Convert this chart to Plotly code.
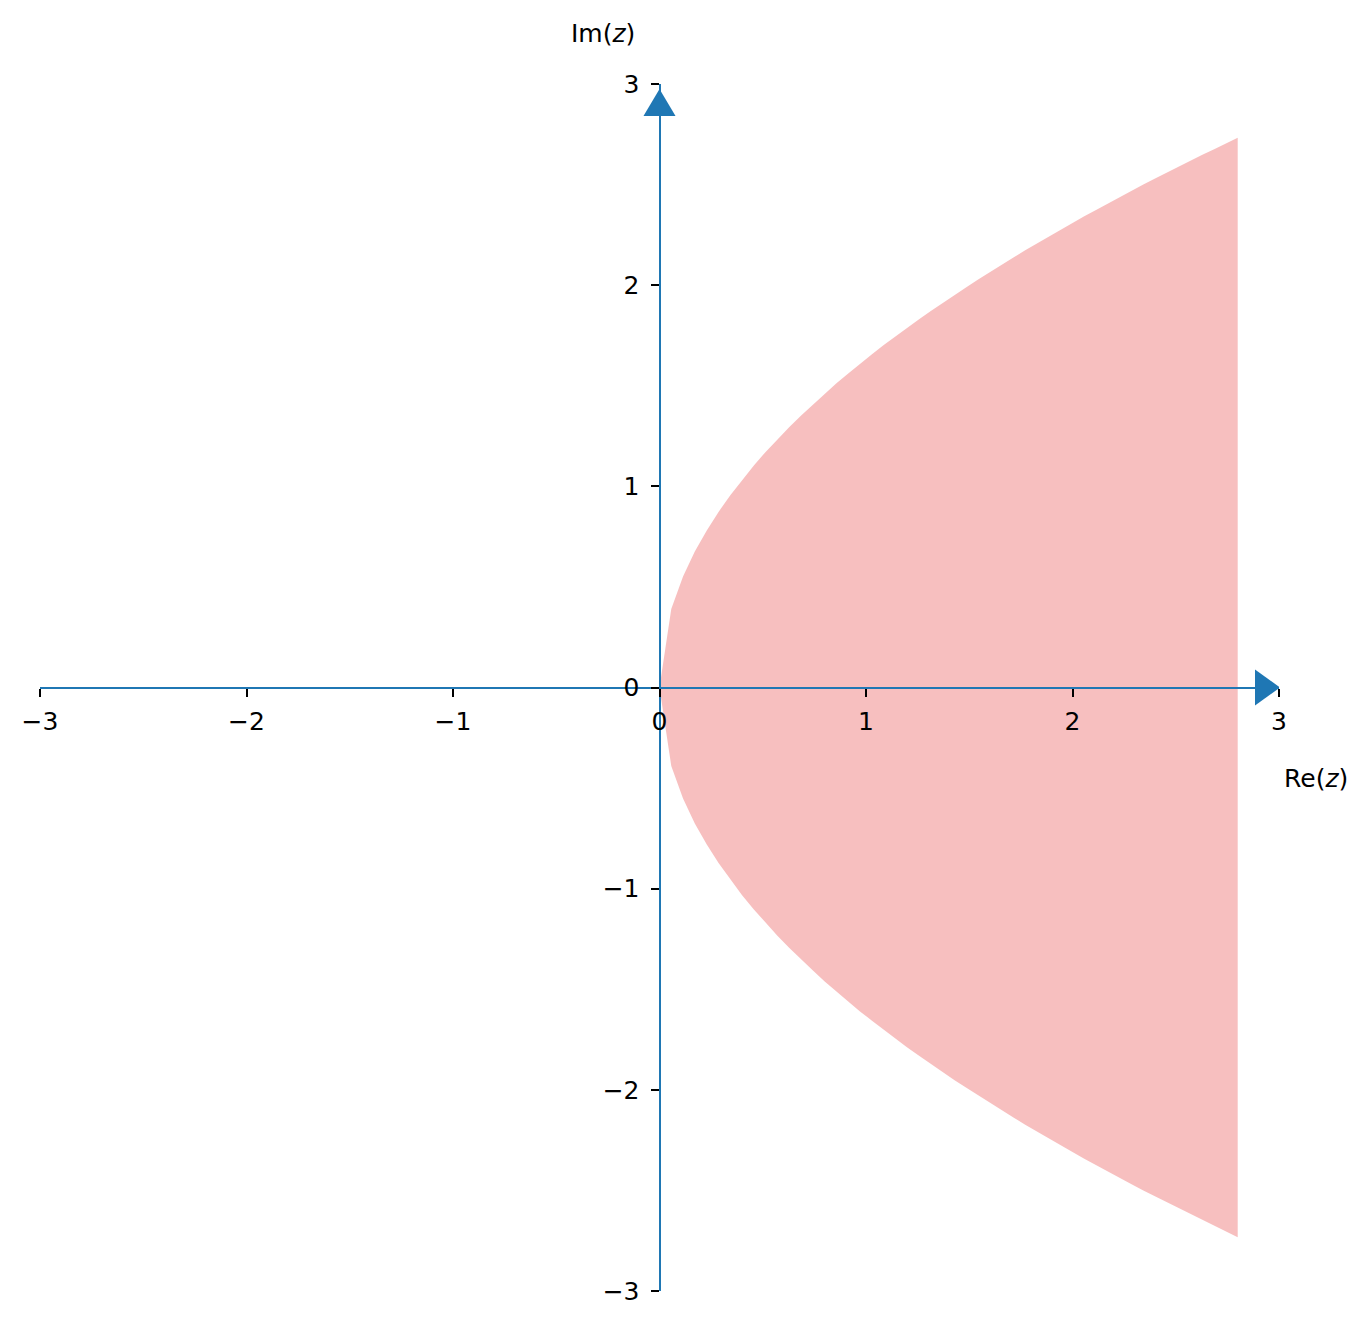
import plotly.graph_objects as go

# Boundary of the shaded region (upper half; lower half is its mirror)
re_vals = [0.0, 0.057, 0.114, 0.171, 0.229, 0.286, 0.343, 0.400, 0.457, 0.514,
           0.571, 0.629, 0.686, 0.743, 0.800, 0.857, 0.914, 0.971, 1.029, 1.086,
           1.143, 1.200, 1.257, 1.314, 1.371, 1.429, 1.486, 1.543, 1.600, 1.657,
           1.714, 1.771, 1.829, 1.886, 1.943, 2.000, 2.057, 2.114, 2.171, 2.229,
           2.286, 2.343, 2.400, 2.457, 2.514, 2.571, 2.629, 2.686, 2.743, 2.800]
im_upper = [0.0, 0.390, 0.552, 0.676, 0.781, 0.873, 0.956, 1.033, 1.104, 1.171,
            1.234, 1.295, 1.352, 1.407, 1.461, 1.512, 1.561, 1.610, 1.656, 1.702,
            1.746, 1.789, 1.831, 1.872, 1.912, 1.952, 1.990, 2.028, 2.066, 2.102,
            2.138, 2.173, 2.208, 2.242, 2.276, 2.309, 2.342, 2.374, 2.406, 2.438,
            2.469, 2.500, 2.530, 2.560, 2.589, 2.619, 2.648, 2.676, 2.704, 2.733]
im_lower = [-v for v in im_upper]

tick_vals = [-3, -2, -1, 0, 1, 2, 3]
x_label = "Re(<i>z</i>)"
y_label = "Im(<i>z</i>)"

AXIS_BLUE = "#1f77b4"
FONT = "DejaVu Sans"
FS = 25

fig = go.Figure()
fig.add_trace(go.Scatter(
    x=re_vals + re_vals[::-1],
    y=im_upper + im_lower[::-1],
    fill="toself",
    fillcolor="rgba(240,128,128,0.5)",
    line=dict(width=0),
    mode="lines",
    hoverinfo="skip",
    showlegend=False,
))

axis_common = dict(
    range=[-3, 3],
    tickvals=tick_vals,
    showgrid=False,
    zeroline=False,
    showline=True,
    linecolor=AXIS_BLUE,
    linewidth=2,
    ticks="outside",
    ticklen=8,
    tickwidth=1.6,
    tickcolor="black",
    tickfont=dict(family=FONT, size=FS, color="black"),
    anchor="free",
    position=0.5,
    layer="above traces",
)

fig.update_layout(
    width=1372,
    height=1328,
    margin=dict(l=32, r=101, t=76, b=45),
    plot_bgcolor="white",
    paper_bgcolor="white",
    showlegend=False,
    xaxis=dict(**axis_common, domain=[0, 1], ticklabelstandoff=3),
    yaxis=dict(**axis_common, domain=[0, 1], ticklabelstandoff=6),
    font=dict(family=FONT, size=FS, color="black"),
)

# arrow heads at the positive ends of the axes
fig.add_shape(type="path", xref="x", yref="y", xsizemode="pixel", ysizemode="pixel",
              xanchor=3, yanchor=0, path="M -24,-18 L 1,0 L -24,18 Z",
              fillcolor=AXIS_BLUE, line=dict(width=0), layer="above")
fig.add_shape(type="path", xref="x", yref="y", xsizemode="pixel", ysizemode="pixel",
              xanchor=0, yanchor=3, path="M -16,-32 L 0,-5 L 16,-32 Z",
              fillcolor=AXIS_BLUE, line=dict(width=0), layer="above")

fig.add_annotation(text=y_label, xref="paper", yref="paper", x=0.4544, y=1.0422,
                   showarrow=False, font=dict(family=FONT, size=FS, color="black"),
                   xanchor="center", yanchor="middle")
fig.add_annotation(text=x_label, xref="paper", yref="paper", x=1.0299, y=0.425,
                   showarrow=False, font=dict(family=FONT, size=FS, color="black"),
                   xanchor="center", yanchor="middle")

fig.write_html("out.html")
